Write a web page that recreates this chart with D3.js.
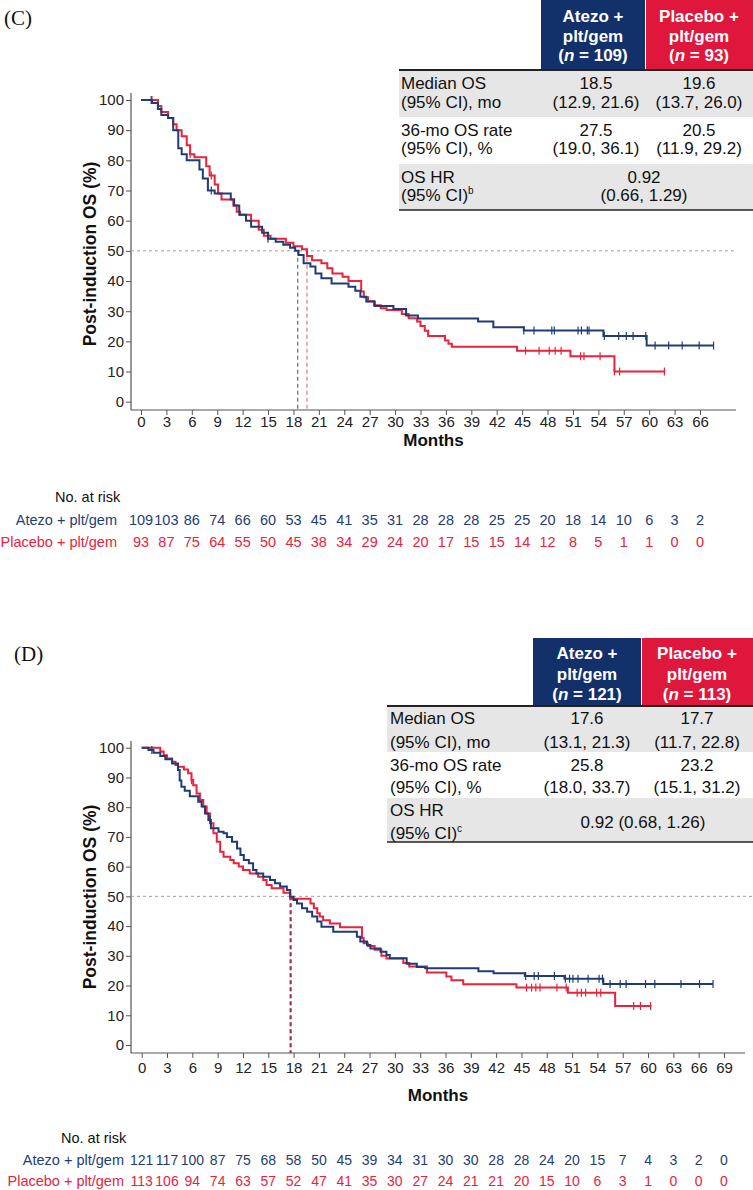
<!DOCTYPE html>
<html><head><meta charset="utf-8">
<script src="https://cdn.jsdelivr.net/npm/d3@7"></script>
<style>body{margin:0;background:#fff}svg{display:block}text{font-family:"Liberation Sans",Arial,sans-serif}</style>
</head><body>
<svg id="chart" width="753" height="1190"></svg>
<script>
// ---------------- DATA ----------------
const yTicks = [0,10,20,30,40,50,60,70,80,90,100];
const xTicksC = [0,3,6,9,12,15,18,21,24,27,30,33,36,39,42,45,48,51,54,57,60,63,66];
const xTicksD = [0,3,6,9,12,15,18,21,24,27,30,33,36,39,42,45,48,51,54,57,60,63,66,69];

const seriesNames = ["Atezo + plt/gem", "Placebo + plt/gem"];

// Panel C: KM steps [month, survival %]
const kmAtezoC = [[0,100],[1.3,99],[2.0,97],[2.4,95],[3.2,94],[3.8,90],[4.4,84],[4.8,82],[5.4,80],[6.9,77],[7.3,74],[7.9,70],[8.7,69],[10.6,67],[11.0,65],[11.6,62],[12.4,60],[13.0,58],[14.3,56],[15.0,54],[15.9,53],[16.8,52],[17.6,51],[18.2,50],[18.6,48.6],[19.2,45.9],[20.0,44.8],[20.6,42.5],[21.3,40.9],[22.5,39.2],[24.5,38.1],[25.3,36.8],[25.9,34.8],[26.6,33.2],[27.6,31.7],[29.8,30.7],[31.3,28.6],[32.7,27.6],[39.8,26.6],[41.6,24.7],[45.2,23.6],[54.6,21.8],[59.7,18.6],[67.6,18.6]];
const kmPlaceboC = [[0,100],[2.0,98],[2.4,96],[3.2,94],[3.8,92],[4.2,90],[4.8,88],[5.4,85],[5.8,82],[6.3,81],[7.7,78],[8.1,75],[8.7,72],[9.1,69],[9.5,67],[10.9,65],[11.3,63],[11.7,62],[13.0,60],[13.9,57],[14.5,55],[15.3,54],[17.1,52.7],[18.0,51.5],[19.0,50.5],[19.6,48.3],[20.2,46.9],[21.3,45.9],[22.0,44.2],[22.6,42.5],[23.8,41.4],[24.5,40],[26.0,36.5],[26.3,34.6],[26.8,33.3],[27.5,32],[28.3,31],[29.0,30.4],[30.8,29.1],[31.6,27.7],[32.6,26.6],[33.0,25.1],[33.5,23.5],[33.9,21.8],[35.9,20.3],[36.3,19.2],[36.7,18.2],[44.4,16.9],[50.7,15.1],[55.9,10],[61.9,10]];
const censorAtezoC = [1.2,8.3,15.0,45.2,46.4,48.5,48.8,51.6,52.0,52.7,52.9,54.7,56.4,57.3,58.1,59.6,60.7,62.3,63.9,65.9,67.6];
const censorPlaceboC = [1.3,5.8,8.3,45.4,47.0,48.2,48.9,49.6,51.9,52.3,54.2,55.9,56.5,61.8];
const medianC = [18.5, 19.6];
const atRiskAtezoC = [109,103,86,74,66,60,53,45,41,35,31,28,28,28,25,25,20,18,14,10,6,3,2];
const atRiskPlaceboC = [93,87,75,64,55,50,45,38,34,29,24,20,17,15,15,14,12,8,5,1,1,0,0];
const nC = [109, 93];
const rowLabels = ["Median OS","(95% CI), mo","36-mo OS rate","(95% CI), %","OS HR","(95% CI)"];
const atezoValsC = ["18.5","(12.9, 21.6)","27.5","(19.0, 36.1)"];
const placeboValsC = ["19.6","(13.7, 26.0)","20.5","(11.9, 29.2)"];
const hrC = ["0.92","(0.66, 1.29)"];

// Panel D
const kmAtezoD = [[0,100],[0.8,99.2],[1.4,98.3],[2.2,97.2],[2.8,96.1],[3.6,94.7],[4.3,92.5],[4.5,89],[4.7,86.9],[5.1,85.5],[5.7,83.7],[6.7,81.8],[7.1,80.2],[7.5,77.9],[7.9,75.7],[8.2,72.9],[9.1,71.7],[9.7,71.2],[10.1,70],[10.7,68.4],[11.3,66.1],[11.7,63.9],[12.1,62.2],[12.7,61.1],[13.2,58.9],[13.6,57.7],[14.4,56.6],[15.2,55.5],[15.8,54.4],[16.4,53.3],[17.2,52.1],[17.6,49.9],[18.0,48.8],[18.4,47.6],[19.0,46],[19.6,44.8],[20.2,43.2],[20.8,41.5],[21.3,39.8],[22.7,38.1],[25.5,36.4],[25.9,34.8],[26.7,33.6],[27.1,32.5],[28.3,31.4],[29.0,30.3],[29.4,29.2],[31.4,27.3],[32.6,26.2],[33.6,25.8],[39.9,24.8],[41.7,24.1],[45.4,23.2],[50.1,22.3],[54.7,20.5],[67.7,20.5]];
const kmPlaceboD = [[0,100],[2.2,98.7],[2.6,97.5],[3.0,96.4],[3.6,95.3],[4.0,94.2],[4.3,93.6],[5.0,92.7],[5.5,91.4],[5.9,89.1],[6.1,87.4],[6.5,84.6],[6.9,82.4],[7.3,80.2],[7.7,77.9],[8.1,74.6],[8.5,71.2],[8.9,68.4],[9.3,65],[9.7,63.3],[10.5,62.2],[10.9,61.1],[11.5,60],[12.0,58.9],[12.8,57.7],[13.8,56.6],[14.4,55.5],[14.8,53.8],[15.4,52.7],[16.8,51.2],[17.6,49.2],[20.0,47.6],[20.4,46],[20.8,44.3],[21.1,43.2],[21.5,42],[22.3,40.9],[23.5,39.6],[26.1,36],[26.3,34.2],[26.8,33.3],[27.6,32],[28.4,30],[29.0,29.1],[31.0,27.6],[31.7,26.4],[33.8,24.4],[36.1,23.0],[36.7,21.8],[38.1,20.4],[44.4,19.3],[50.5,17.6],[56.1,13.1],[60.4,13.1]];
const censorAtezoD = [1.2,8.1,45.5,46.5,47.0,48.9,50.2,50.7,51.1,51.7,52.9,54.2,54.6,55.5,56.7,57.4,59.7,60.8,63.9,66.1,67.7];
const censorPlaceboD = [5.9,45.6,46.2,46.7,47.2,49.2,50.3,51.6,52.1,52.6,53.9,54.4,58.3,59.1,60.3];
const medianD = [17.6, 17.7];
const atRiskAtezoD = [121,117,100,87,75,68,58,50,45,39,34,31,30,30,28,28,24,20,15,7,4,3,2,0];
const atRiskPlaceboD = [113,106,94,74,63,57,52,47,41,35,30,27,24,21,21,20,15,10,6,3,1,0,0,0];
const nD = [121, 113];
const atezoValsD = ["17.6","(13.1, 21.3)","25.8","(18.0, 33.7)"];
const placeboValsD = ["17.7","(11.7, 22.8)","23.2","(15.1, 31.2)"];
const hrD = ["0.92 (0.68, 1.26)"];

// ---------------- STYLE ----------------
const BLUE = "#1f3d74", RED = "#e8233c", HBLUE = "#12306a", HRED = "#e0173d", GRAY = "#e6e6e6", AX = "#555";
const svg = d3.select("#chart");

function stepValue(km, t){ let v = km[0][1]; for (const [tt,s] of km){ if (tt <= t) v = s; else break; } return v; }

function drawPanel(p){
  const g = svg.append("g");
  const x = d3.scaleLinear().domain([0, p.xTicks[p.xTicks.length-1]]).range([p.x0, p.x1]);
  const y = d3.scaleLinear().domain([0,100]).range([p.y0, p.y100]);

  g.append("text").attr("x", p.labelX).attr("y", p.labelY)
    .style("font-family","'Liberation Serif','Times New Roman',serif").attr("font-size",21).attr("fill","#111").text(p.label);

  const ya = g.append("g").attr("transform",`translate(${p.axisX},0)`)
    .call(d3.axisLeft(y).tickValues(yTicks).tickSize(5).tickPadding(2));
  ya.select(".domain").remove();
  ya.selectAll(".tick line").attr("stroke",AX);
  ya.selectAll(".tick text").attr("font-size",15).attr("fill","#222").style("font-family","'Liberation Sans',Arial,sans-serif");
  g.append("line").attr("x1",p.axisX).attr("x2",p.axisX).attr("y1",p.axisTop).attr("y2",p.axisBottom).attr("stroke",AX).attr("stroke-width",1.2);

  const xa = g.append("g").attr("transform",`translate(0,${p.axisBottom})`)
    .call(d3.axisBottom(x).tickValues(p.xTicks).tickSize(5).tickPadding(p.tickPad));
  xa.select(".domain").remove();
  xa.selectAll(".tick line").attr("stroke",AX);
  xa.selectAll(".tick text").attr("font-size",15).attr("fill","#222").style("font-family","'Liberation Sans',Arial,sans-serif");
  g.append("line").attr("x1",p.axisX).attr("x2",p.axisEnd).attr("y1",p.axisBottom).attr("y2",p.axisBottom).attr("stroke",AX).attr("stroke-width",1.2);

  g.append("text").attr("x",(p.axisX+p.axisEnd)/2).attr("y",p.monthsY).attr("text-anchor","middle")
    .attr("font-size",17).attr("font-weight","bold").attr("fill","#111").text("Months");
  g.append("text").attr("transform",`translate(${p.ylabX},${p.ylabY}) rotate(-90)`).attr("text-anchor","middle")
    .attr("font-size",17.5).attr("font-weight","bold").attr("fill","#111").text("Post-induction OS (%)");

  g.append("line").attr("x1",p.axisX).attr("x2",p.refEnd).attr("y1",y(50)).attr("y2",y(50))
    .attr("stroke","#a0a0a0").attr("stroke-width",1).attr("stroke-dasharray","3,3");
  p.median.forEach((m,i)=>{
    g.append("line").attr("x1",x(m)).attr("x2",x(m)).attr("y1",y(50)).attr("y2",p.axisBottom)
      .attr("stroke",p.medCols[i]).attr("stroke-width",1.3).attr("stroke-dasharray","4,3");
  });

  const line = d3.line().x(d=>x(d[0])).y(d=>y(d[1])).curve(d3.curveStepAfter);
  [[p.kmP, p.cenP, RED],[p.kmA, p.cenA, BLUE]].forEach(([km, cen, col])=>{
    g.append("path").datum(km).attr("d",line).attr("fill","none").attr("stroke",col).attr("stroke-width",2);
    g.selectAll(null).data(cen).enter().append("line")
      .attr("x1",d=>x(d)).attr("x2",d=>x(d)).attr("y1",d=>y(stepValue(km,d))-4).attr("y2",d=>y(stepValue(km,d))+4)
      .attr("stroke",col).attr("stroke-width",1.2);
  });

  const t = p.table;
  g.append("rect").attr("x",t.blue[0]).attr("y",t.hTop).attr("width",t.blue[1]-t.blue[0]).attr("height",t.hBot-t.hTop).attr("fill",HBLUE);
  g.append("rect").attr("x",t.red[0]+1).attr("y",t.hTop).attr("width",t.red[1]-t.red[0]-1).attr("height",t.hBot-t.hTop).attr("fill",HRED);
  [[t.blue, p.n[0], "Atezo +"],[t.red, p.n[1], "Placebo +"]].forEach(([b,n,head])=>{
    const cx = (b[0]+b[1])/2;
    const hs = t.hLines;
    g.append("text").attr("x",cx).attr("y",hs[0]).attr("text-anchor","middle").attr("fill","#fff").attr("font-weight","bold").attr("font-size",17).text(head);
    g.append("text").attr("x",cx).attr("y",hs[1]).attr("text-anchor","middle").attr("fill","#fff").attr("font-weight","bold").attr("font-size",17).text("plt/gem");
    const tx = g.append("text").attr("x",cx).attr("y",hs[2]).attr("text-anchor","middle").attr("fill","#fff").attr("font-weight","bold").attr("font-size",17);
    tx.append("tspan").text("(");
    tx.append("tspan").attr("font-style","italic").text("n");
    tx.append("tspan").text(" = " + n + ")");
  });
  g.append("rect").attr("x",t.left).attr("y",t.rows[0]).attr("width",753-t.left).attr("height",t.rows[1]-t.rows[0]).attr("fill",GRAY);
  g.append("rect").attr("x",t.left).attr("y",t.rows[2]).attr("width",753-t.left).attr("height",t.rows[3]-t.rows[2]).attr("fill",GRAY);
  g.append("line").attr("x1",t.left).attr("x2",753).attr("y1",t.rows[0]).attr("y2",t.rows[0]).attr("stroke","#222").attr("stroke-width",2);
  g.append("line").attr("x1",t.left).attr("x2",753).attr("y1",t.rows[3]).attr("y2",t.rows[3]).attr("stroke","#222").attr("stroke-width",1.6);
  rowLabels.forEach((lab,i)=>{
    const tx = g.append("text").attr("x",t.labX).attr("y",t.lines[i]).attr("font-size",17).attr("fill","#111").text(lab);
    if (i===5) tx.append("tspan").attr("font-size",10).attr("dy",-7).text(p.sup);
  });
  p.atezoVals.forEach((v,i)=>g.append("text").attr("x",t.c1).attr("y",t.lines[i]).attr("text-anchor","middle").attr("font-size",17).attr("fill","#111").text(v));
  p.placeboVals.forEach((v,i)=>g.append("text").attr("x",t.c2).attr("y",t.lines[i]).attr("text-anchor","middle").attr("font-size",17).attr("fill","#111").text(v));
  p.hr.forEach((v,i)=>g.append("text").attr("x",t.cHR).attr("y",p.hr.length===1 ? (t.lines[4]+t.lines[5])/2 : t.lines[4+i])
    .attr("text-anchor","middle").attr("font-size",17).attr("fill","#111").text(v));

  const r = p.risk;
  g.append("text").attr("x",r.titleX).attr("y",r.y[0]).attr("font-size",14.5).attr("fill","#111").text("No. at risk");
  [[p.riskA, BLUE, seriesNames[0]],[p.riskP, RED, seriesNames[1]]].forEach(([vals,col,name],k)=>{
    g.append("text").attr("x",r.labRight).attr("y",r.y[k+1]).attr("text-anchor","end").attr("font-size",14.5).attr("fill",col).text(name);
    g.selectAll(null).data(vals).enter().append("text")
      .attr("x",(d,i)=>x(p.xTicks[i])).attr("y",r.y[k+1]).attr("text-anchor","middle").attr("font-size",r.numSize).attr("fill",col).text(d=>d);
  });
}

drawPanel({
  label:"(C)", labelX:4, labelY:25,
  xTicks:xTicksC, x0:141, x1:700, y0:401.7, y100:100,
  axisX:131, axisTop:93, axisBottom:410, axisEnd:736, refEnd:736, tickPad:1,
  monthsY:446, ylabX:96, ylabY:254,
  kmA:kmAtezoC, kmP:kmPlaceboC, cenA:censorAtezoC, cenP:censorPlaceboC,
  median:medianC, medCols:["#6a7898","#ea7d8a"],
  n:nC, sup:"b", atezoVals:atezoValsC, placeboVals:placeboValsC, hr:hrC,
  table:{blue:[541,645], red:[645,753], hTop:0, hBot:70, hLines:[22,42,61], left:399, rows:[70,117,164,210],
         lines:[89,108,136,154,183,201], labX:401, c1:596, c2:699, cHR:644},
  riskA:atRiskAtezoC, riskP:atRiskPlaceboC,
  risk:{titleX:55, labRight:117, y:[502,525,547], numSize:14.5}
});
drawPanel({
  label:"(D)", labelX:14, labelY:661,
  xTicks:xTicksD, x0:141.7, x1:724, y0:1045, y100:747.7,
  axisX:131, axisTop:741, axisBottom:1053, axisEnd:745, refEnd:752, tickPad:4,
  monthsY:1101, ylabX:96, ylabY:897,
  kmA:kmAtezoD, kmP:kmPlaceboD, cenA:censorAtezoD, cenP:censorPlaceboD,
  median:medianD, medCols:["#7a2a48","#a0304a"],
  n:nD, sup:"c", atezoVals:atezoValsD, placeboVals:placeboValsD, hr:hrD,
  table:{blue:[533,641], red:[641,753], hTop:638, hBot:705, hLines:[659,680,700], left:387, rows:[706,752,798,842],
         lines:[724,748,771,793,816,839], labX:390, c1:587, c2:697, cHR:643},
  riskA:atRiskAtezoD, riskP:atRiskPlaceboD,
  risk:{titleX:61, labRight:124, y:[1143,1165,1186], numSize:14}
});
</script>
</body></html>
